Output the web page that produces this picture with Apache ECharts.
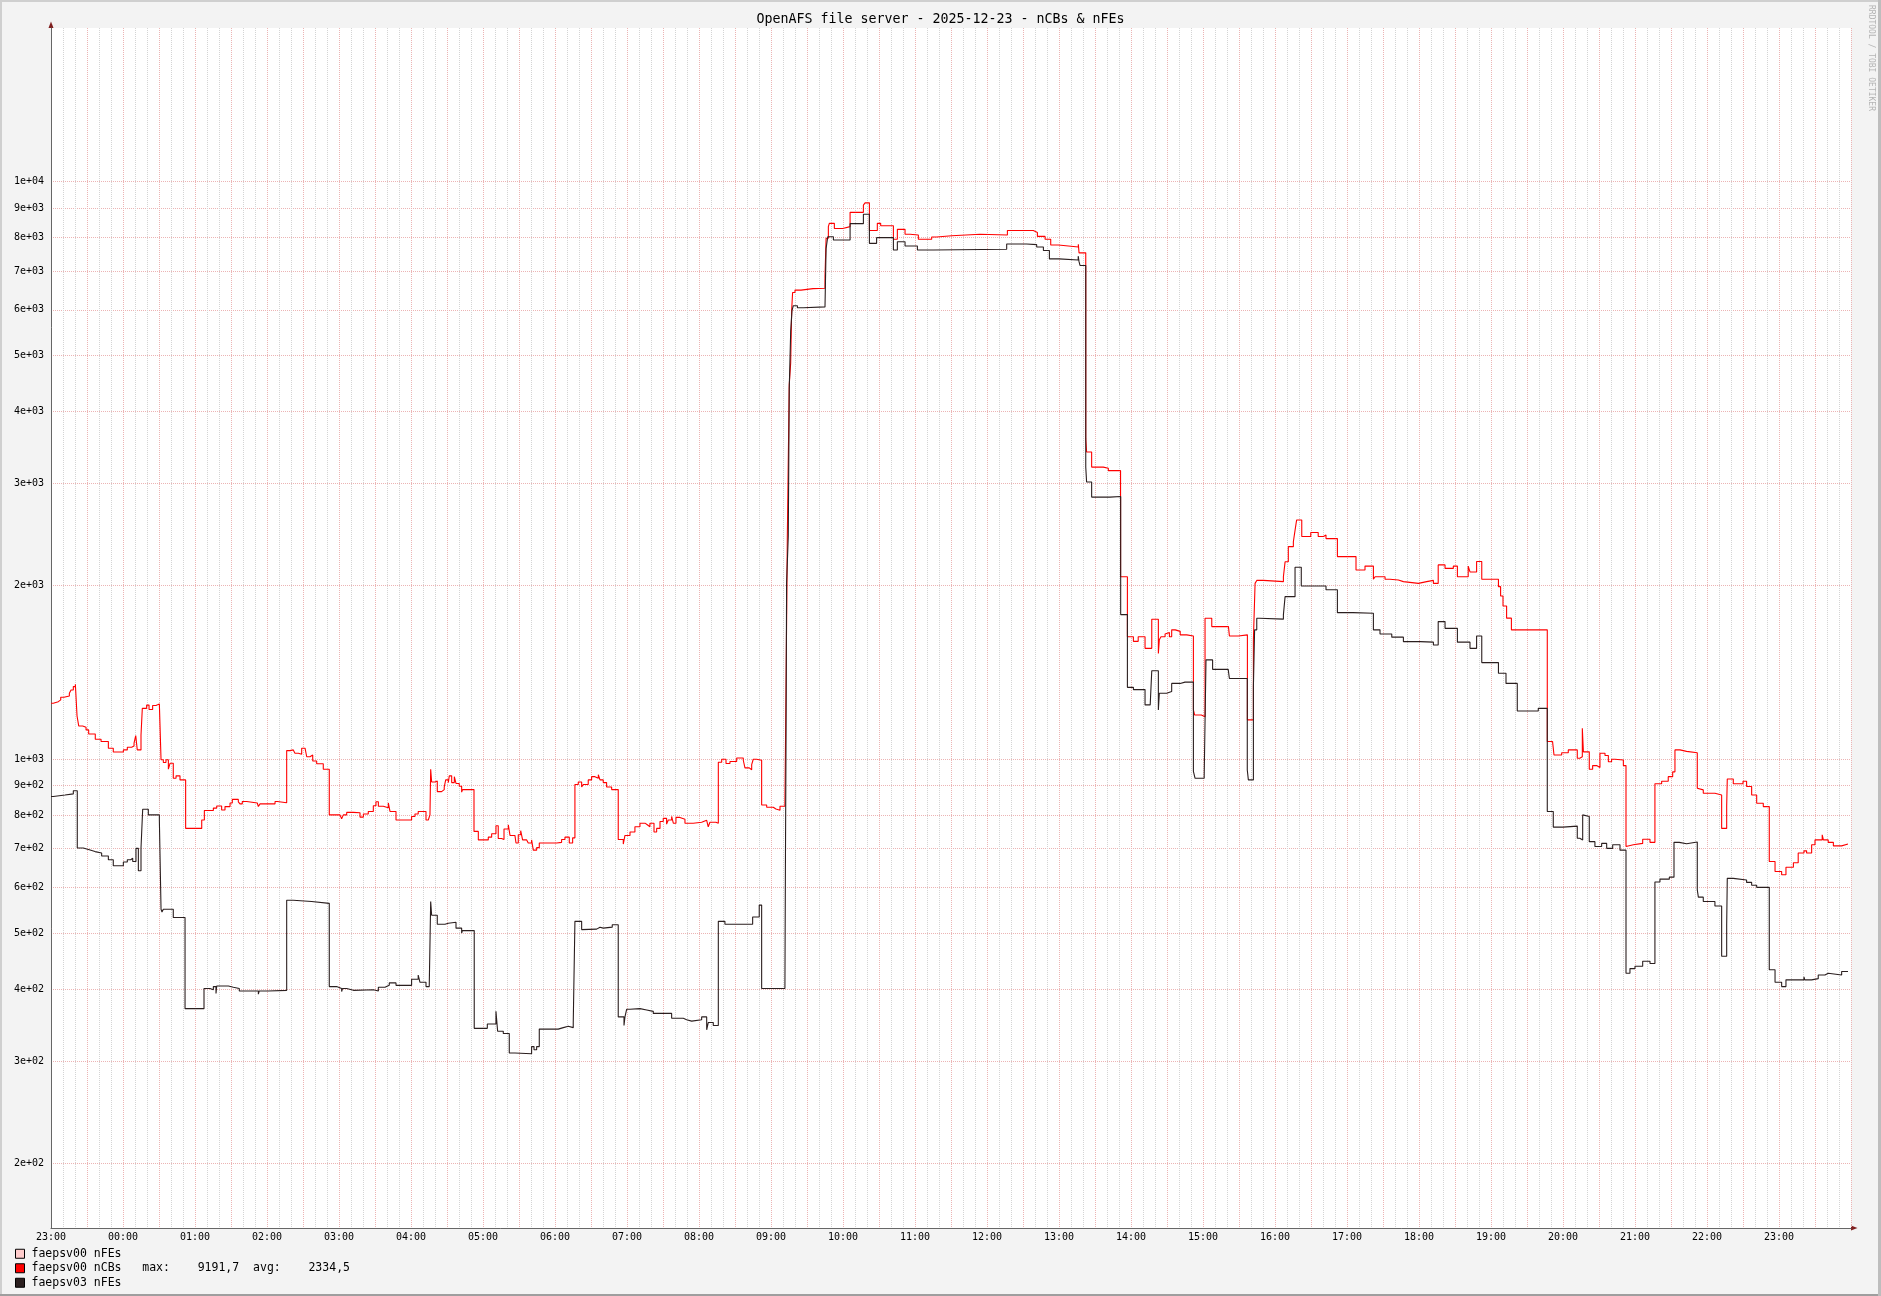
<!DOCTYPE html>
<html><head><meta charset="utf-8">
<script src="https://cdn.jsdelivr.net/npm/echarts@6/dist/echarts.min.js"></script>
<style>html,body{margin:0;padding:0;background:#f3f3f3}#c{width:1881px;height:1296px}</style>
</head><body><div id="c"></div><script>
const titleText = 'OpenAFS file server - 2025-12-23 - nCBs & nFEs';
const seriesNames = ['faepsv00 nFEs', 'faepsv00 nCBs', 'faepsv03 nFEs'];
const seriesColors = ['#ffcccc', '#ff0000', '#2b1f1f'];
const statsText = ['', '   max:    9191,7  avg:    2334,5', ''];
// x in minutes since 23:00 (previous day); one label per hour
const hourLabels = ['23:00','00:00','01:00','02:00','03:00','04:00','05:00','06:00','07:00','08:00','09:00','10:00','11:00','12:00','13:00','14:00','15:00','16:00','17:00','18:00','19:00','20:00','21:00','22:00','23:00'];
const xMin = 0, xMax = 1500;
const yMin = 154.3, yMax = 18455;
const yTickValues = [200,300,400,500,600,700,800,900,1000,2000,3000,4000,5000,6000,7000,8000,9000,10000];

const nFEs00 = [];
const nCBs00 = [[0,1250],[1.9,1258],[6.1,1267],[8.1,1280],[10.8,1287],[15.3,1301],[16.7,1318],[18.6,1336],[20.3,1348],[21.7,1188],[23.1,1142],[26.4,1136],[29.2,1124],[31.4,1106],[36.9,1083],[41.7,1073],[47.8,1045],[51.9,1029],[60.3,1038],[63.6,1049],[67.2,1054],[69.2,1066],[70.6,1099],[71.9,1038],[75,1100],[76.1,1225],[79.7,1241],[81.7,1219],[84.7,1239],[87.5,1247],[90.3,1254],[91.7,998],[93.6,987],[95.8,998],[97.8,961],[99.2,984],[101.9,927],[104.2,936],[107.5,921],[112.2,759],[125.6,785],[127.8,815],[135.3,823],[138.1,830],[142.2,817],[145,828],[149.2,840],[151.1,852],[156.1,844],[157.5,837],[159.4,845],[163.1,840],[171.9,836],[172.8,828],[174.2,837],[186.7,845],[188.6,841],[196.4,1035],[199.2,1038],[201.9,1045],[203.3,1024],[206.1,1020],[208.9,1045],[211.7,1049],[213.1,1010],[215.8,1017],[218.1,993],[221.4,982],[226.9,961],[231.9,801],[240.8,800],[242.2,789],[243.6,801],[246.4,809],[251.9,808],[257.5,794],[260.3,804],[264.4,812],[268.6,831],[270.8,844],[272.8,829],[276.9,824],[281.1,840],[282.5,812],[287.5,785],[300.5,796],[303.3,804],[306,812],[312.5,785],[314.4,790],[315.8,801],[316.4,961],[317.2,913],[320,917],[321.9,879],[325.5,886],[327.7,895],[328.9,921],[331.1,911],[331.9,936],[333.9,911],[336.1,933],[337.5,908],[340.2,898],[342.2,877],[343,886],[352.5,750],[356.1,725],[364.4,733],[367.2,743],[370.8,767],[372.7,729],[375.5,726],[377.5,757],[381.1,770],[382.5,738],[386.6,743],[387.5,716],[389.4,740],[391.4,752],[393,725],[396.4,728],[397.7,716],[400.5,725],[401.9,696],[404.7,703],[406.9,716],[421.4,718],[425.5,726],[428.3,733],[431.9,716],[434.7,731],[436.6,904],[439.4,913],[442.2,895],[443.6,904],[447.7,921],[450.5,933],[453.3,927],[456.1,940],[457.5,921],[460.2,911],[463,895],[467.2,886],[472.7,726],[476.9,713],[478.3,738],[482.5,748],[486.6,764],[490.8,775],[495,770],[496.9,764],[499.1,775],[502.5,748],[504.7,759],[507.5,780],[510.2,790],[513,772],[514.4,785],[517.2,796],[518.6,775],[520.8,793],[524.1,787],[528.3,775],[535.2,778],[542.2,784],[546.4,779],[547.7,764],[549.1,778],[554.1,775],[556.1,988],[558.9,1000],[562.5,983],[565.8,991],[571.4,1005],[576.9,996],[578.3,966],[581.9,959],[583.9,979],[585.2,1000],[588,996],[592.2,833],[596.4,826],[601.9,820],[604.1,816],[607.5,829],[611.6,833],[612.5,1316],[613,1727],[613.6,2424],[615.2,4446],[616.4,4855],[617.2,5980],[618,6430],[620,6491],[625,6530],[635,6540],[645,6850],[645.9,7980],[647.8,8360],[648.6,8470],[652.8,8300],[659.8,8360],[665.9,8850],[677,9110],[678.4,9191.7],[682,8230],[688.6,8470],[691.4,8390],[702,7950],[705.3,8270],[711.7,8110],[715.9,8085],[722.8,7950],[733.9,8020],[738,8060],[750.6,8110],[774.2,8085],[797,8230],[818.6,8170],[822,8040],[828.4,7950],[833.1,7770],[839.5,7710],[856.1,7790],[856.7,7530],[862.3,3590],[863,3404],[867.2,3205],[876.9,3190],[881.1,3160],[891.3,2070],[897,1630],[902,1600],[906,1630],[911.7,1556],[917.3,1747],[922.8,1525],[923.6,1610],[925,1630],[928.4,1648],[930,1658],[932,1630],[933.9,1675],[936.9,1665],[941,1642],[946.4,1635],[952,1217],[953,1193],[958.6,1185],[961.7,1754],[967.3,1697],[981.2,1700],[982,1635],[989.5,1642],[997,1170],[1002,1610],[1003.4,2016],[1004.8,2040],[1010.3,2030],[1027,2070],[1028.4,2197],[1031.1,2334],[1035.3,2380],[1036.7,2491],[1038,2595],[1042.3,2430],[1049.8,2470],[1056,2430],[1060.4,2445],[1062.5,2410],[1072,2243],[1087.5,2126],[1095,2160],[1102,2050],[1103.4,2070],[1111.7,2050],[1115.8,2043],[1122.8,2030],[1127,2016],[1139.5,2030],[1146.4,2040],[1152,2016],[1156,2170],[1161.7,2140],[1168.6,2160],[1172,2070],[1181,2160],[1182.5,2110],[1188,2200],[1192.3,2050],[1206.2,1990],[1208,1917],[1210,1842],[1213,1755],[1217,1675],[1246.9,1073],[1251.3,1080],[1252.5,1017],[1258.9,1026],[1264.4,1038],[1271.9,1004],[1274,1010],[1276.1,1131],[1277,1030],[1281.9,961],[1284.7,975],[1288,968],[1290.8,1024],[1295,1015],[1297.8,990],[1300.5,1000],[1303.3,997],[1310.3,975],[1312.5,706],[1313,711],[1318.6,715],[1326.4,727],[1332.5,718],[1336.6,907],[1342.2,916],[1347.7,933],[1351.4,951],[1353.3,1038],[1357.5,1032],[1363,1026],[1371.9,891],[1372.7,885],[1376.9,873],[1386.6,867],[1392.2,759],[1396.4,828],[1396.9,924],[1401.9,907],[1410,916],[1413,897],[1417.2,867],[1421.4,839],[1426.9,828],[1431.9,665],[1436.7,639],[1442.2,631],[1445.8,650],[1452,662],[1456,688],[1460.8,694],[1463,688],[1467.2,711],[1470,725],[1476,740],[1477,725],[1481,718],[1485.3,708],[1492.2,713],[1497.5,713]];
const nFEs03 = [[0,862],[1.9,867],[11.7,871],[18.6,882],[21.9,702],[26.9,697],[31.9,692],[36.7,688],[42.2,680],[47.8,670],[51.9,654],[60.3,664],[63.6,670],[66.4,674],[68.1,665],[70.8,701],[72.8,641],[75,701],[76.4,819],[81.1,801],[90.3,785],[91.7,550],[92.5,544],[93.6,550],[101.9,532],[111.7,370],[127.5,401],[132.5,399],[135.3,404],[137.5,393],[138.1,405],[147.8,403],[152,401],[156.9,397],[172.8,392],[173.5,397],[181.1,398],[196.4,570],[201.9,567],[217.2,563],[231.9,404],[238,401],[242.2,396],[243,401],[246.4,398],[252,399],[268.6,397],[272.8,403],[278.3,406],[281.9,410],[287.5,406],[300.5,416],[306,423],[307.5,411],[312.5,404],[315.2,406],[316.4,567],[317.2,537],[321.9,518],[328.3,520],[331.1,522],[337.5,510],[342.2,500],[342.8,505],[352.7,342],[363.6,348],[370.8,366],[372.2,338],[376.9,335],[381.9,310],[386.6,309],[400.5,318],[402.5,314],[404.7,318],[406.9,341],[422.7,343],[426.9,345],[431.1,343],[435.2,349],[436.6,524],[442.2,507],[443.6,508],[454.7,512],[457.5,510],[460.2,512],[467.7,517],[472.7,358],[477.5,346],[478.3,358],[479.7,369],[482.5,370],[490.8,368],[496.4,366],[501.9,363],[517.2,356],[526.9,354],[529.7,352],[533.9,354],[542.2,358],[546.4,340],[547.7,350],[551.9,346],[556.1,524],[561.6,518],[584.7,533],[590.2,559],[592.2,401],[611.6,401],[612,641],[612.5,1057],[613,2018],[614.4,2435],[615.2,4375],[616.4,5500],[617.5,5980],[618.6,6100],[622,6050],[627,6070],[645,6110],[645.5,6915],[645.9,7660],[647.3,8030],[652,7926],[665.9,8460],[677,8785],[682,7820],[688,8000],[702,7617],[705.3,7870],[711.7,7740],[722,7617],[735.3,7640],[796.4,7800],[813,7780],[821.4,7710],[827,7600],[832,7350],[840,7320],[856,7430],[856.7,7270],[857.5,7160],[862.3,3205],[863,3020],[867.2,2844],[882.5,2850],[891.4,1780],[897,1332],[902,1320],[911.7,1242],[916,1250],[917.3,1423],[922.8,1217],[923.6,1301],[929.7,1310],[933.9,1353],[941,1360],[945,1367],[946.4,1360],[952,953],[953.4,927],[961,935],[962.5,1486],[968,1431],[981,1440],[982,1380],[996.9,958],[997.8,921],[1002,1335],[1003,1675],[1004.8,1754],[1007,1748],[1027,1778],[1028.4,1912],[1036.7,2150],[1041.9,1995],[1062.5,1965],[1072,1794],[1085,1790],[1102,1675],[1107.5,1648],[1117.3,1627],[1127,1598],[1141,1595],[1152,1577],[1156,1731],[1161.7,1685],[1172,1595],[1182.5,1556],[1188,1635],[1192.3,1470],[1206.2,1409],[1212.5,1353],[1221.9,1212],[1239.4,1225],[1246.9,812],[1251.9,763],[1260,766],[1271.9,730],[1274,725],[1276.4,801],[1277,796],[1281.9,720],[1286.6,706],[1292.2,715],[1296.4,701],[1301.4,711],[1307.5,696],[1312.5,426],[1315.8,434],[1320,438],[1326.4,447],[1332.5,443],[1336.6,613],[1340.8,620],[1348.6,625],[1352.5,718],[1356.9,714],[1363,719],[1371.9,594],[1372.8,577],[1376.9,567],[1386.6,557],[1392.2,456],[1396.4,515],[1396.9,622],[1401.9,618],[1413,612],[1417.2,605],[1421.4,600],[1431.9,432],[1436.7,411],[1442.2,404],[1445.8,415],[1460.8,420],[1461.5,415],[1467.2,417],[1472.7,423],[1478.3,426],[1481,423],[1492.2,429],[1497.5,429]];

const mono = 'DejaVu Sans Mono';
function sci(v) {
  const e = Math.floor(Math.log10(v) + 1e-9);
  const m = Math.round(v / Math.pow(10, e));
  return m + 'e+' + String(e).padStart(2, '0');
}
const seriesData = [nFEs00, nCBs00, nFEs03];
const chart = echarts.init(document.getElementById('c'), null, {renderer: 'canvas'});
chart.setOption({
  animation: false,
  backgroundColor: '#f3f3f3',
  title: {text: titleText, left: 'center', top: 13, padding: 0,
    textStyle: {fontFamily: mono, fontSize: 13.3, fontWeight: 'normal', color: '#000'}},
  grid: {left: 51, top: 28, width: 1800, height: 1200, show: true, backgroundColor: '#ffffff', borderWidth: 0},
  legend: {orient: 'vertical', left: 15, top: 1247, height: 60, padding: 0, icon: 'rect', itemWidth: 9, itemHeight: 9, itemGap: 1,
    selectedMode: false, itemStyle: {borderColor: '#000', borderWidth: 1},
    textStyle: {fontFamily: mono, fontSize: 11.5, color: '#000', lineHeight: 13.5, padding: [0, 0, 0, 2]},
    formatter: name => name + statsText[seriesNames.indexOf(name)],
    data: seriesNames},
  xAxis: {type: 'value', min: xMin, max: xMax, interval: 30,
    axisLine: {lineStyle: {color: '#666', width: 1}},
    axisTick: {show: false},
    axisLabel: {margin: 4, fontFamily: mono, fontSize: 10, color: '#000', showMaxLabel: false,
      formatter: v => (v % 60 === 0 && v < xMax) ? hourLabels[v / 60] : ''},
    splitLine: {show: true, lineStyle: {color: '#ecb4b4', type: [1, 1], width: 1}},
    minorTick: {show: false, splitNumber: 3},
    minorSplitLine: {show: true, lineStyle: {color: '#d4d4d4', type: [1, 1], width: 1}}},
  yAxis: {type: 'log', logBase: 10, min: yMin, max: yMax,
    axisLine: {show: true, lineStyle: {color: '#666', width: 1}},
    axisTick: {show: false, customValues: yTickValues},
    axisLabel: {customValues: yTickValues, margin: 7, fontFamily: mono, fontSize: 10, color: '#000', formatter: v => sci(v)},
    splitLine: {show: true, lineStyle: {color: '#ecb4b4', type: [1, 1], width: 1}},
    minorSplitLine: {show: false}},
  series: seriesNames.map((n, i) => ({
    name: n, type: 'line', step: 'end', data: seriesData[i], symbol: 'none', showSymbol: false,
    color: seriesColors[i], lineStyle: {width: 1.1, color: seriesColors[i]}, silent: true, z: 2 + i,
    emphasis: {disabled: true}
  })),
  graphic: [
    {type: 'rect', silent: true, shape: {x: 0, y: 0, width: 1881, height: 2}, style: {fill: '#cfcfcf'}},
    {type: 'rect', silent: true, shape: {x: 0, y: 0, width: 2, height: 1296}, style: {fill: '#cfcfcf'}},
    {type: 'rect', silent: true, shape: {x: 0, y: 1294, width: 1881, height: 2}, style: {fill: '#9e9e9e'}},
    {type: 'rect', silent: true, shape: {x: 1878, y: 0, width: 3, height: 1296}, style: {fill: '#bdbdbd'}},
    {type: 'polygon', silent: true, shape: {points: [[48.5, 28], [53.5, 28], [51, 21.5]]}, style: {fill: '#801f1f'}},
    {type: 'polygon', silent: true, shape: {points: [[1851, 1225.5], [1851, 1230.5], [1857.5, 1228]]}, style: {fill: '#801f1f'}},
    {type: 'text', silent: true, x: 1871.5, y: 5, rotation: -Math.PI / 2,
      style: {text: 'RRDTOOL / TOBI OETIKER', fontFamily: mono, fontSize: 8, fill: '#b4b4b4', verticalAlign: 'middle', align: 'left'}}
  ]
});
</script></body></html>
